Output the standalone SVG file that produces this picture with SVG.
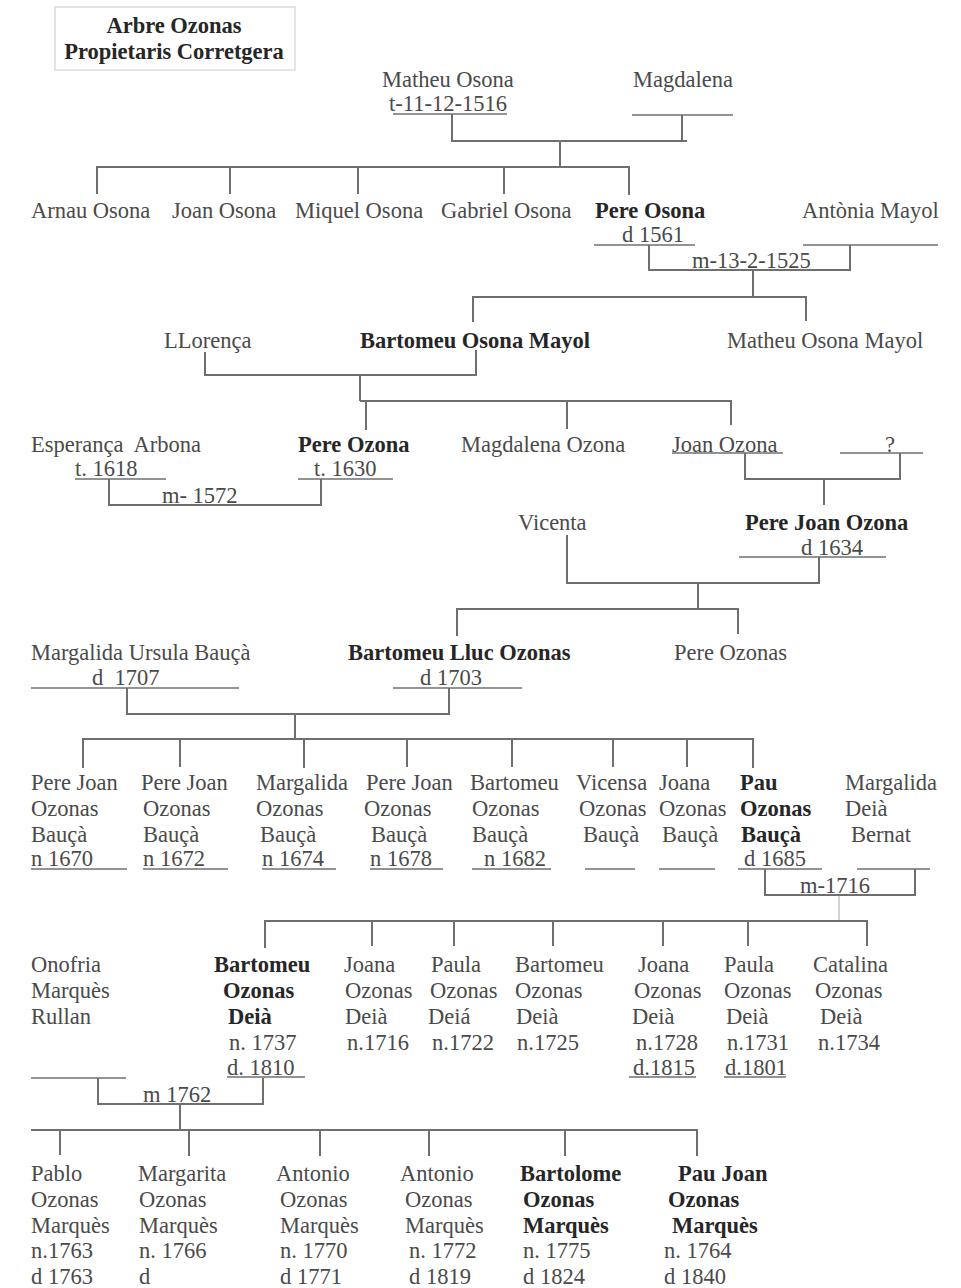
<svg xmlns="http://www.w3.org/2000/svg" width="961" height="1288" viewBox="0 0 961 1288">
<style>
.t{font-family:"Liberation Serif","Times New Roman",serif;font-size:22.5px;fill:#4a4a4a}
.b{font-weight:bold;fill:#262626}
.c{stroke:#6f6f6f;stroke-width:2;fill:none}
.u{stroke:#6f6f6f;stroke-width:1.6}
.f{stroke:#c4c4c4;stroke-width:1.5;fill:none}
</style>
<rect width="961" height="1288" fill="#ffffff"/>
<g id="title">
<rect x="55" y="7" width="240" height="63" fill="none" stroke="#dcdcdc" stroke-width="1.5"/>
<text class="t b" x="174" y="33" text-anchor="middle">Arbre Ozonas</text>
<text class="t b" x="174" y="59" text-anchor="middle">Propietaris Corretgera</text>
</g>
<g id="connectors">
<path class="c" d="M452,114 V141 H687 M682,115 V141"/>
<path class="c" d="M560,141 V167 M97,194 V167 H629 V195 M230,167 V194 M358,167 V194 M504,167 V194"/>
<path class="c" d="M649,245 V270 H850 V245"/>
<path class="c" d="M753,270 V297 M473,322 V297 H806 V321"/>
<path class="c" d="M205,352 V375 H476 V350"/>
<path class="c" d="M360,375 V401 M366,430 V401 M360,401 H731 V425 M567,401 V429"/>
<path class="c" d="M109,479 V505 H321 V479"/>
<path class="c" d="M745,453 V479 H900 V453 M824,479 V505"/>
<path class="c" d="M567,535 V583 H819 V557 M698,583 V609 M457,636 V609 H738 V634"/>
<path class="c" d="M127,688 V714 H449 V688 M295,714 V739 M83,768 V739 H753 V768 M180,739 V767 M304,739 V768 M407,739 V767 M512,739 V767 M613,739 V767 M687,739 V767"/>
<path class="c" d="M765,869 V895 H915 V869"/>
<path class="f" d="M839,896 V921"/>
<path class="c" d="M265,948 V921 H867 V946 M372,921 V946 M454,921 V946 M553,921 V946 M663,921 V946 M748,921 V946"/>
<path class="c" d="M98,1078 V1104 H263 V1078 M180,1104 V1130 M31,1130 H697 V1156 M60,1130 V1155 M189,1130 V1156 M320,1130 V1156 M429,1130 V1156 M565,1130 V1156"/>
</g>
<g id="matheu-osona">
<text class="t" x="382" y="87">Matheu Osona</text>
<text class="t" x="389" y="111">t-11-12-1516</text>
<line class="u" x1="393" y1="114" x2="507" y2="114"/>
</g>
<g id="magdalena">
<text class="t" x="633" y="87">Magdalena</text>
<line class="u" x1="632" y1="115" x2="733" y2="115"/>
</g>
<g id="arnau-osona"><text class="t" x="31" y="218">Arnau Osona</text></g>
<g id="joan-osona"><text class="t" x="172" y="218">Joan Osona</text></g>
<g id="miquel-osona"><text class="t" x="295" y="218">Miquel Osona</text></g>
<g id="gabriel-osona"><text class="t" x="441" y="218">Gabriel Osona</text></g>
<g id="pere-osona">
<text class="t b" x="595" y="218">Pere Osona</text>
<text class="t" x="622" y="242">d 1561</text>
<line class="u" x1="594" y1="245" x2="695" y2="245"/>
</g>
<g id="antonia-mayol">
<text class="t" x="802" y="218">Antònia Mayol</text>
<line class="u" x1="803" y1="245" x2="938" y2="245"/>
</g>
<g id="marriage-1525"><text class="t" x="692" y="268">m-13-2-1525</text></g>
<g id="llorenca"><text class="t" x="164" y="348">LLorença</text></g>
<g id="bartomeu-osona-mayol"><text class="t b" x="360" y="348">Bartomeu Osona Mayol</text></g>
<g id="matheu-osona-mayol"><text class="t" x="727" y="348">Matheu Osona Mayol</text></g>
<g id="esperanca-arbona">
<text class="t" x="31" y="452" xml:space="preserve">Esperança  Arbona</text>
<text class="t" x="75" y="476">t. 1618</text>
<line class="u" x1="75" y1="479" x2="166" y2="479"/>
</g>
<g id="pere-ozona">
<text class="t b" x="298" y="452">Pere Ozona</text>
<text class="t" x="314" y="476">t. 1630</text>
<line class="u" x1="298" y1="479" x2="393" y2="479"/>
</g>
<g id="marriage-1572"><text class="t" x="162" y="503">m- 1572</text></g>
<g id="magdalena-ozona"><text class="t" x="461" y="452">Magdalena Ozona</text></g>
<g id="joan-ozona">
<text class="t" x="672" y="452">Joan Ozona</text>
<line class="u" x1="672" y1="453" x2="783" y2="453"/>
</g>
<g id="unknown">
<text class="t" x="885" y="452">?</text>
<line class="u" x1="840" y1="453" x2="923" y2="453"/>
</g>
<g id="vicenta"><text class="t" x="518" y="530">Vicenta</text></g>
<g id="pere-joan-ozona">
<text class="t b" x="745" y="530">Pere Joan Ozona</text>
<text class="t" x="801" y="555">d 1634</text>
<line class="u" x1="739" y1="557" x2="886" y2="557"/>
</g>
<g id="margalida-ursula-bauca">
<text class="t" x="31" y="660">Margalida Ursula Bauçà</text>
<text class="t" x="92" y="685" xml:space="preserve">d  1707</text>
<line class="u" x1="31" y1="688" x2="239" y2="688"/>
</g>
<g id="bartomeu-lluc-ozonas">
<text class="t b" x="348" y="660">Bartomeu Lluc Ozonas</text>
<text class="t" x="420" y="685">d 1703</text>
<line class="u" x1="393" y1="688" x2="522" y2="688"/>
</g>
<g id="pere-ozonas"><text class="t" x="674" y="660">Pere Ozonas</text></g>
<g id="pere-joan-1670">
<text class="t" x="31" y="790">Pere Joan</text><text class="t" x="31" y="816">Ozonas</text><text class="t" x="31" y="842">Bauçà</text><text class="t" x="31" y="866">n 1670</text>
<line class="u" x1="31" y1="869" x2="127" y2="869"/>
</g>
<g id="pere-joan-1672">
<text class="t" x="141" y="790">Pere Joan</text><text class="t" x="143" y="816">Ozonas</text><text class="t" x="143" y="842">Bauçà</text><text class="t" x="143" y="866">n 1672</text>
<line class="u" x1="143" y1="869" x2="228" y2="869"/>
</g>
<g id="margalida-1674">
<text class="t" x="256" y="790">Margalida</text><text class="t" x="256" y="816">Ozonas</text><text class="t" x="260" y="842">Bauçà</text><text class="t" x="262" y="866">n 1674</text>
<line class="u" x1="262" y1="869" x2="336" y2="869"/>
</g>
<g id="pere-joan-1678">
<text class="t" x="366" y="790">Pere Joan</text><text class="t" x="364" y="816">Ozonas</text><text class="t" x="371" y="842">Bauçà</text><text class="t" x="370" y="866">n 1678</text>
<line class="u" x1="370" y1="869" x2="443" y2="869"/>
</g>
<g id="bartomeu-1682">
<text class="t" x="470" y="790">Bartomeu</text><text class="t" x="472" y="816">Ozonas</text><text class="t" x="472" y="842">Bauçà</text><text class="t" x="484" y="866">n 1682</text>
<line class="u" x1="472" y1="869" x2="551" y2="869"/>
</g>
<g id="vicensa">
<text class="t" x="576" y="790">Vicensa</text><text class="t" x="579" y="816">Ozonas</text><text class="t" x="583" y="842">Bauçà</text>
<line class="u" x1="585" y1="869" x2="635" y2="869"/>
</g>
<g id="joana-bauca">
<text class="t" x="659" y="790">Joana</text><text class="t" x="659" y="816">Ozonas</text><text class="t" x="662" y="842">Bauçà</text>
<line class="u" x1="659" y1="869" x2="715" y2="869"/>
</g>
<g id="pau-ozonas-bauca">
<text class="t b" x="740" y="790">Pau</text><text class="t b" x="740" y="816">Ozonas</text><text class="t b" x="741" y="842">Bauçà</text><text class="t" x="744" y="866">d 1685</text>
<line class="u" x1="738" y1="869" x2="822" y2="869"/>
</g>
<g id="margalida-deia-bernat">
<text class="t" x="845" y="790">Margalida</text><text class="t" x="845" y="816">Deià</text><text class="t" x="851" y="842">Bernat</text>
<line class="u" x1="857" y1="869" x2="930" y2="869"/>
</g>
<g id="marriage-1716"><text class="t" x="800" y="893">m-1716</text></g>
<g id="onofria-marques-rullan">
<text class="t" x="31" y="972">Onofria</text><text class="t" x="31" y="998">Marquès</text><text class="t" x="31" y="1024">Rullan</text>
<line class="u" x1="31" y1="1078" x2="126" y2="1078"/>
</g>
<g id="bartomeu-ozonas-deia">
<text class="t b" x="214" y="972">Bartomeu</text><text class="t b" x="223" y="998">Ozonas</text><text class="t b" x="228" y="1024">Deià</text><text class="t" x="229" y="1050">n. 1737</text><text class="t" x="227" y="1075">d. 1810</text>
<line class="u" x1="227" y1="1077" x2="305" y2="1077"/>
</g>
<g id="joana-1716">
<text class="t" x="344" y="972">Joana</text><text class="t" x="345" y="998">Ozonas</text><text class="t" x="345" y="1024">Deià</text><text class="t" x="347" y="1050">n.1716</text>
</g>
<g id="paula-1722">
<text class="t" x="431" y="972">Paula</text><text class="t" x="430" y="998">Ozonas</text><text class="t" x="428" y="1024">Deiá</text><text class="t" x="432" y="1050">n.1722</text>
</g>
<g id="bartomeu-1725">
<text class="t" x="515" y="972">Bartomeu</text><text class="t" x="515" y="998">Ozonas</text><text class="t" x="516" y="1024">Deià</text><text class="t" x="517" y="1050">n.1725</text>
</g>
<g id="joana-1728">
<text class="t" x="638" y="972">Joana</text><text class="t" x="634" y="998">Ozonas</text><text class="t" x="632" y="1024">Deià</text><text class="t" x="636" y="1050">n.1728</text><text class="t" x="633" y="1075">d.1815</text>
<line class="u" x1="629" y1="1077" x2="696" y2="1077"/>
</g>
<g id="paula-1731">
<text class="t" x="724" y="972">Paula</text><text class="t" x="724" y="998">Ozonas</text><text class="t" x="726" y="1024">Deià</text><text class="t" x="727" y="1050">n.1731</text><text class="t" x="725" y="1075">d.1801</text>
<line class="u" x1="724" y1="1077" x2="786" y2="1077"/>
</g>
<g id="catalina-1734">
<text class="t" x="813" y="972">Catalina</text><text class="t" x="815" y="998">Ozonas</text><text class="t" x="820" y="1024">Deià</text><text class="t" x="818" y="1050">n.1734</text>
</g>
<g id="marriage-1762"><text class="t" x="143" y="1102">m 1762</text></g>
<g id="pablo">
<text class="t" x="31" y="1181">Pablo</text><text class="t" x="31" y="1207">Ozonas</text><text class="t" x="31" y="1233">Marquès</text><text class="t" x="31" y="1258">n.1763</text><text class="t" x="31" y="1284">d 1763</text>
</g>
<g id="margarita">
<text class="t" x="138" y="1181">Margarita</text><text class="t" x="139" y="1207">Ozonas</text><text class="t" x="139" y="1233">Marquès</text><text class="t" x="139" y="1258">n. 1766</text><text class="t" x="139" y="1284">d</text>
</g>
<g id="antonio-1770">
<text class="t" x="276" y="1181">Antonio</text><text class="t" x="280" y="1207">Ozonas</text><text class="t" x="280" y="1233">Marquès</text><text class="t" x="280" y="1258">n. 1770</text><text class="t" x="280" y="1284">d 1771</text>
</g>
<g id="antonio-1772">
<text class="t" x="400" y="1181">Antonio</text><text class="t" x="405" y="1207">Ozonas</text><text class="t" x="405" y="1233">Marquès</text><text class="t" x="409" y="1258">n. 1772</text><text class="t" x="409" y="1284">d 1819</text>
</g>
<g id="bartolome">
<text class="t b" x="520" y="1181">Bartolome</text><text class="t b" x="523" y="1207">Ozonas</text><text class="t b" x="523" y="1233">Marquès</text><text class="t" x="523" y="1258">n. 1775</text><text class="t" x="523" y="1284">d 1824</text>
</g>
<g id="pau-joan">
<text class="t b" x="678" y="1181">Pau Joan</text><text class="t b" x="668" y="1207">Ozonas</text><text class="t b" x="672" y="1233">Marquès</text><text class="t" x="664" y="1258">n. 1764</text><text class="t" x="664" y="1284">d 1840</text>
</g>
</svg>
